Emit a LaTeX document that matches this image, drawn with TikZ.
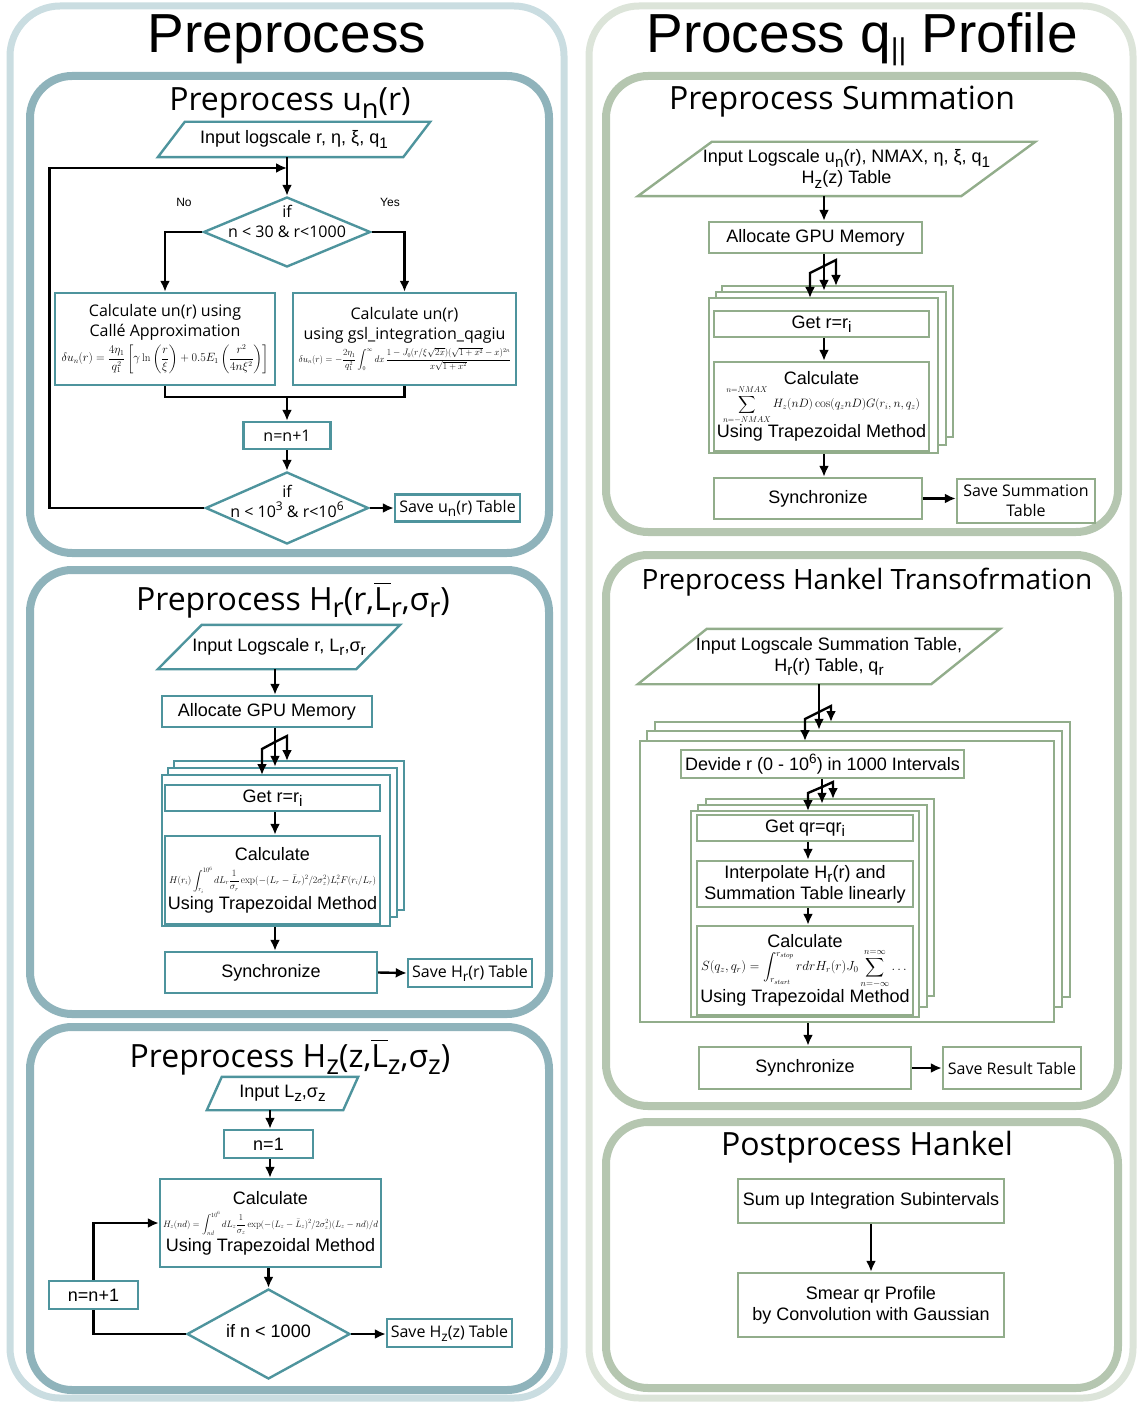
\documentclass[tikz,border=0pt]{standalone}
\usepackage{fontspec}
\usepackage{graphicx}
\usepackage{amsmath}
\usetikzlibrary{positioning,shapes.geometric,arrows.meta,calc}

\newfontfamily\arialf{Liberation Sans}
\newfontfamily\myriadf{Open Sans}

\definecolor{leftlight}{HTML}{CADDE1}
\definecolor{leftmid}{HTML}{8FB3BB}
\definecolor{leftbox}{HTML}{4E949D}
\definecolor{rightlight}{HTML}{DCE4D9}
\definecolor{rightmid}{HTML}{B5C6B0}
\definecolor{rightbox}{HTML}{92AD8B}

\newcommand{\lowsub}[1]{\raisebox{-0.45ex}{\scalebox{0.85}{#1}}}
\newcommand{\highsup}[1]{\raisebox{0.8ex}{\scalebox{0.75}{#1}}}
\newcommand{\headfont}{\arialf\fontsize{55}{60}\selectfont}
\newcommand{\panelfont}{\myriadf\fontsize{32}{36}\selectfont}
\newcommand{\arialtext}{\arialf\fontsize{18}{21}\selectfont}
\newcommand{\myriadtext}{\myriadf\fontsize{16}{20}\selectfont}
\newcommand{\notefont}{\arialf\fontsize{12}{14}\selectfont}

\tikzset{
  flow/.style={-{Latex[length=11pt,width=10pt]}, line width=2.4pt},
  wire/.style={line width=2.4pt},
  framea/.style={draw=leftlight, line width=7pt, rounded corners=50pt},
  frameb/.style={draw=rightlight, line width=7pt, rounded corners=50pt},
  panela/.style={draw=leftmid, line width=8pt, rounded corners=42pt},
  panelb/.style={draw=rightmid, line width=8pt, rounded corners=42pt},
  bbox/.style={draw=leftbox, line width=2.4pt, fill=white, inner sep=1pt, align=center, font=\arialtext},
  gbox/.style={bbox, draw=rightbox},
  iotext/.style={inner sep=0pt, align=center, font=\arialtext},
  bioline/.style={draw=leftbox, line width=2.4pt},
  gioline/.style={draw=rightbox, line width=2.4pt},
  bdec/.style={diamond, draw=leftbox, line width=2.4pt, inner sep=1pt, fill=white},
  bstack/.style={draw=leftbox, line width=2.4pt, fill=white, inner sep=0pt},
  gstack/.style={bstack, draw=rightbox},
  intext/.style={font=\arialtext, align=center, inner sep=0pt}
}

\begin{document}
\begin{tikzpicture}[x=1pt,y=-1pt]
\useasboundingbox (0,0) rectangle (1138,1404);

% Frames
\draw[framea] (10,6) rectangle (564,1398);
\draw[frameb] (589,6) rectangle (1133,1398);
\draw[panela] (30,76) rectangle (549,553);
\draw[panela] (30,570) rectangle (549,1014);
\draw[panela] (30,1027) rectangle (549,1390);
\draw[panelb] (606,76) rectangle (1118,532);
\draw[panelb] (606,555) rectangle (1118,1106);
\draw[panelb] (606,1122) rectangle (1118,1388);

% Titles
\node[font=\headfont] (pretitle) at (287,39) {Preprocess};
\node[font=\headfont] (protitle) at (862,39) {Process q\raisebox{-7pt}{\fontsize{30}{30}\selectfont ||} Profile};
\node[font=\panelfont] (untitle) at (290,103) {Preprocess u\lowsub{n}(r)};
\node[font=\panelfont] (hrtitle) at (293,600) {Preprocess H\lowsub{r}(r,$\overline{\mbox{L}}$\lowsub{r},σ\lowsub{r})};
\node[font=\panelfont] (hztitle) at (290,1057) {Preprocess H\lowsub{z}(z,$\overline{\mbox{L}}$\lowsub{z},σ\lowsub{z})};
\node[font=\panelfont] (sumtitle) at (842,102) {Preprocess Summation};
\node[font=\myriadf\fontsize{28}{32}\selectfont] (hanktitle) at (867,582) {Preprocess Hankel Transofrmation};
\node[font=\panelfont] (posttitle) at (867,1147) {Postprocess Hankel};

% Preprocess un(r)
\node[iotext, minimum width=245pt, minimum height=35pt] (in1) at (294,139.5) {Input logscale r, η, ξ, q\lowsub{1}};
\draw[bioline] ([xshift=-13.5pt]in1.south west) -- ([xshift=-13.5pt]in1.south east)
  -- ([xshift=13.5pt]in1.north east) -- ([xshift=13.5pt]in1.north west) -- cycle;
\coordinate (loop1) at (287,168);
\node[bdec, minimum width=167pt, minimum height=70pt] (d1) at (287,232) {};
\node[intext, font=\myriadtext, yshift=11pt] (d1txt) at (d1.center) {if\\n < 30 \& r<1000};
\node[font=\notefont] (no1) at (184,202) {No};
\node[font=\notefont] (yes1) at (390,202) {Yes};
\node[bbox, font=\myriadtext, minimum width=220pt, minimum height=92pt] (calcA) at (165,339)
  {Calculate un(r) using\\Callé Approximation\\[3pt]
   \resizebox{207pt}{!}{$\delta u_n(r)=\dfrac{4\eta_1}{q_1^2}\left[\gamma\ln\left(\dfrac{r}{\xi}\right)+0.5E_1\left(\dfrac{r^2}{4n\xi^2}\right)\right]$}};
\node[bbox, font=\myriadtext, minimum width=223pt, minimum height=92pt] (calcB) at (404.5,339)
  {Calculate un(r)\\using gsl\_integration\_qagiu\\[3pt]
   \resizebox{212pt}{!}{$\delta u_n(r)=-\dfrac{2\eta_1}{q_1^2}\displaystyle\int_0^\infty dx\,\frac{1-J_0(r/\xi\sqrt{2x})(\sqrt{1+x^2}-x)^{2n}}{x\sqrt{1+x^2}}$}};
\coordinate (merge1) at (287,397);
\node[bbox, font=\myriadtext, minimum width=87pt, minimum height=27pt] (inc1) at (287,435.5) {n=n+1};
\node[bdec, minimum width=163pt, minimum height=72pt] (d2) at (287,508) {};
\node[intext, font=\myriadtext, yshift=7pt] (d2txt) at (d2.center) {if\\n < 10\highsup{3} \& r<10\highsup{6}};
\node[bbox, font=\myriadtext, minimum width=125pt, minimum height=27pt] (save1) at (457.5,508) {Save u\lowsub{n}(r) Table};

\draw[flow] (in1.south -| loop1) -- (d1.north);
\draw[flow] (d2.west) -- ++(-155,0) |- (loop1);
\draw[flow] (d1.west) -| (calcA.north);
\draw[flow] (d1.east) -| (calcB.north);
\draw[wire] (calcA.south) |- (merge1) -| (calcB.south);
\draw[flow] (merge1) -- (inc1.north);
\draw[flow] (inc1.south) -- (d2.north);
\draw[flow] (d2.east) -- (save1.west);

% Preprocess Hr
\node[iotext, minimum width=198pt, minimum height=44pt] (in2) at (279,647) {Input Logscale r, L\lowsub{r},σ\lowsub{r}};
\draw[bioline] ([xshift=-22pt]in2.south west) -- ([xshift=-22pt]in2.south east)
  -- ([xshift=22pt]in2.north east) -- ([xshift=22pt]in2.north west) -- cycle;
\coordinate (c2) at (275,700);
\node[bbox, minimum width=210pt, minimum height=31pt] (alloc2) at (267,711.5) {Allocate GPU Memory};
\node[bstack, minimum width=230pt, minimum height=149pt] (st2a) at (289,835.5) {};
\node[bstack, minimum width=229pt, minimum height=149pt] (st2b) at (282.5,842.5) {};
\node[bstack, minimum width=228pt, minimum height=151pt] (st2c) at (276,850.5) {};
\node[bbox, minimum width=215pt, minimum height=26pt] (get2) at (272.5,798) {Get r=r\lowsub{i}};
\node[bbox, minimum width=215pt, minimum height=88pt] (calc2) at (272.5,880)
  {Calculate\\[2pt]
   \resizebox{207pt}{!}{$H(r_i)\displaystyle\int_{r_i}^{10^6}dL_r\frac{1}{\sigma_r}\exp(-(L_r-\bar{L}_r)^2/2\sigma_z^2)L_r^2F(r_i/L_r)$}\\[2pt]
   Using Trapezoidal Method};
\node[bbox, minimum width=212pt, minimum height=41pt] (sync2) at (271,972.5) {Synchronize};
\node[bbox, font=\myriadtext, minimum width=124pt, minimum height=28pt] (save2) at (470,973) {Save H\lowsub{r}(r) Table};
\coordinate (fork2) at (275,742);

\draw[flow] (in2.south -| c2) -- (alloc2.north -| c2);
\draw[flow] (alloc2.south -| c2) -- (st2b.north -| c2);
\draw[flow] (fork2) -- ++(12,-6) -- ++(0,25);
\draw[flow] (fork2) -- ++(-13,7) -- ++(0,26);
\draw[flow] (get2.south -| c2) -- (calc2.north -| c2);
\draw[flow] (st2c.south -| c2) -- (sync2.north -| c2);
\draw[flow] (sync2.east) -- (save2.west);

% Preprocess Hz
\node[iotext, minimum width=136pt, minimum height=33pt] (in3) at (282.5,1093.5) {Input L\lowsub{z},σ\lowsub{z}};
\draw[bioline] ([xshift=-7.5pt]in3.south west) -- ([xshift=-7.5pt]in3.south east)
  -- ([xshift=7.5pt]in3.north east) -- ([xshift=7.5pt]in3.north west) -- cycle;
\coordinate (c3) at (270,1100);
\node[bbox, minimum width=89pt, minimum height=28pt] (n3) at (268.5,1144) {n=1};
\node[bbox, minimum width=221pt, minimum height=88pt] (calc3) at (270.5,1223)
  {Calculate\\[2pt]
   \resizebox{215pt}{!}{$H_z(nd)=\displaystyle\int_{nd}^{10^6}dL_z\frac{1}{\sigma_z}\exp(-(L_z-\bar{L}_z)^2/2\sigma_z^2)(L_z-nd)/d$}\\[2pt]
   Using Trapezoidal Method};
\node[bdec, minimum width=163pt, minimum height=90pt] (d3) at (268.5,1334) {};
\node[intext, yshift=3pt] (d3txt) at (d3.center) {if n < 1000};
\node[bbox, minimum width=89pt, minimum height=28pt] (inc3) at (93.5,1295) {n=n+1};
\node[bbox, font=\myriadtext, minimum width=125pt, minimum height=28pt] (save3) at (449.5,1333) {Save H\lowsub{z}(z) Table};

\draw[flow] (in3.south -| c3) -- (n3.north -| c3);
\draw[flow] (n3.south -| c3) -- (calc3.north -| c3);
\draw[flow] (calc3.south -| d3) -- (d3.north);
\draw[wire] (d3.west) -| (inc3.south);
\draw[flow] (inc3.north) |- (calc3.west);
\draw[flow] (d3.east) -- (d3.east -| save3.west);

% Preprocess Summation
\node[iotext, minimum width=323pt, minimum height=54pt] (in4) at (836.5,169)
  {\hspace*{20pt}Input Logscale u\lowsub{n}(r), NMAX, η, ξ, q\lowsub{1}\\\hspace*{20pt}H\lowsub{z}(z) Table};
\draw[gioline] ([xshift=-37pt]in4.south west) -- ([xshift=-37pt]in4.south east)
  -- ([xshift=37pt]in4.north east) -- ([xshift=37pt]in4.north west) -- cycle;
\coordinate (c4) at (824,200);
\node[gbox, minimum width=213pt, minimum height=31pt] (alloc4) at (815.5,237.5) {Allocate GPU Memory};
\node[gstack, minimum width=231pt, minimum height=151pt] (st4a) at (837.5,361.5) {};
\node[gstack, minimum width=230pt, minimum height=153pt] (st4b) at (831,368.5) {};
\node[gstack, minimum width=229pt, minimum height=155pt] (st4c) at (823.5,375.5) {};
\node[gbox, minimum width=215pt, minimum height=26pt] (get4) at (821.5,324) {Get r=r\lowsub{i}};
\node[gbox, minimum width=215pt, minimum height=89pt] (calc4) at (821.5,406.5)
  {Calculate\\
   \resizebox{197pt}{!}{$\displaystyle\sum_{n=-NMAX}^{n=NMAX}H_z(nD)\cos(q_znD)G(r_i,n,q_z)$}\\
   Using Trapezoidal Method};
\node[gbox, minimum width=208pt, minimum height=41pt] (sync4) at (818,498.5) {Synchronize};
\node[gbox, font=\myriadtext, minimum width=138pt, minimum height=44pt] (save4) at (1026,501) {Save Summation\\Table};
\coordinate (fork4) at (824,266);

\draw[flow] (in4.south -| c4) -- (alloc4.north -| c4);
\draw[flow] (alloc4.south -| c4) -- (st4b.north -| c4);
\draw[flow] (fork4) -- ++(12,-6) -- ++(0,26);
\draw[flow] (fork4) -- ++(-14,7) -- ++(0,25);
\draw[flow] (get4.south -| c4) -- (calc4.north -| c4);
\draw[flow] (st4c.south -| c4) -- (sync4.north -| c4);
\draw[flow] (sync4.east) -- (sync4.east -| save4.west);

% Preprocess Hankel
\node[iotext, minimum width=293pt, minimum height=55pt] (in5) at (819,656.5)
  {\hspace*{20pt}Input Logscale Summation Table,\\\hspace*{20pt}H\lowsub{r}(r) Table, q\lowsub{r}};
\draw[gioline] ([xshift=-34.5pt]in5.south west) -- ([xshift=-34.5pt]in5.south east)
  -- ([xshift=34.5pt]in5.north east) -- ([xshift=34.5pt]in5.north west) -- cycle;
\coordinate (c5) at (819,700);
\node[gstack, minimum width=415pt, minimum height=275pt] (st5a) at (862.5,859.5) {};
\node[gstack, minimum width=415pt, minimum height=276pt] (st5b) at (854.5,869) {};
\node[gstack, minimum width=414pt, minimum height=281pt] (st5c) at (847,881.5) {};
\node[gbox, minimum width=283pt, minimum height=28pt] (div5) at (822.5,764) {Devide r (0 - 10\highsup{6}) in 1000 Intervals};
\coordinate (c6) at (822,790);
\node[gstack, minimum width=228pt, minimum height=197pt] (st6a) at (820,897.5) {};
\node[gstack, minimum width=229pt, minimum height=202pt] (st6b) at (812.5,906) {};
\node[gstack, minimum width=228pt, minimum height=206pt] (st6c) at (805,914) {};
\node[gbox, minimum width=216pt, minimum height=26pt] (get6) at (805,828) {Get qr=qr\lowsub{i}};
\node[gbox, minimum width=216pt, minimum height=46pt] (interp6) at (805,884) {Interpolate H\lowsub{r}(r) and\\Summation Table linearly};
\node[gbox, minimum width=216pt, minimum height=89pt] (calc6) at (805,970.5)
  {Calculate\\
   \resizebox{208pt}{!}{$S(q_z,q_r)=\displaystyle\int_{r_{start}}^{r_{stop}}rdrH_r(r)J_0\sum_{n=-\infty}^{n=\infty}\dots$}\\
   Using Trapezoidal Method};
\coordinate (c7) at (808,850);
\node[gbox, minimum width=212pt, minimum height=42pt] (sync5) at (805,1068) {Synchronize};
\node[gbox, font=\myriadtext, minimum width=138pt, minimum height=42pt] (save5) at (1012,1068) {Save Result Table};
\coordinate (fork5) at (819,712);
\coordinate (fork6) at (822,787);

\draw[flow] (in5.south -| c5) -- (st5b.north -| c5);
\draw[flow] (fork5) -- ++(12,-6) -- ++(0,16);
\draw[flow] (fork5) -- ++(-14,7) -- ++(0,22);
\draw[flow] (div5.south -| c6) -- (st6b.north -| c6);
\draw[flow] (fork6) -- ++(11,-5) -- ++(0,17);
\draw[flow] (fork6) -- ++(-14,6) -- ++(0,18);
\draw[flow] (get6.south -| c7) -- (interp6.north -| c7);
\draw[flow] (interp6.south -| c7) -- (calc6.north -| c7);
\draw[flow] (st5c.south -| c7) -- (sync5.north -| c7);
\draw[flow] (sync5.east) -- (save5.west);

% Postprocess Hankel
\node[gbox, minimum width=266pt, minimum height=44pt] (sum7) at (871,1201) {Sum up Integration Subintervals};
\node[gbox, minimum width=266pt, minimum height=64pt] (smear7) at (871,1305) {Smear qr Profile\\by Convolution with Gaussian};
\draw[flow] (sum7) -- (smear7);

\end{tikzpicture}
\end{document}
